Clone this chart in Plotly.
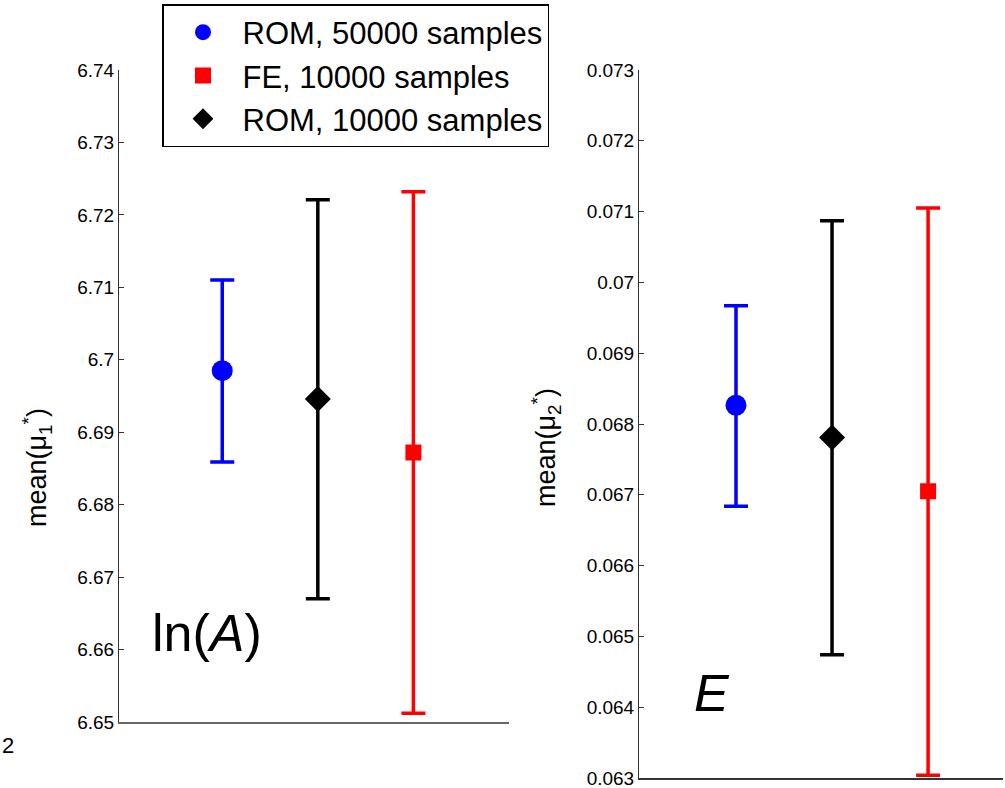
import plotly.graph_objects as go

# ---- data ----
series = ["ROM, 50000 samples", "FE, 10000 samples", "ROM, 10000 samples"]
x_slot = [1, 3, 2]
colors = ["#0000ff", "#ff0000", "#000000"]
symbols = ["circle", "square", "diamond"]
msizes = [21, 16, 20]

mu1_mean = [6.6985, 6.6872, 6.6946]
mu1_low = [6.6859, 6.6512, 6.6670]
mu1_high = [6.7110, 6.7232, 6.7221]

mu2_mean = [0.068265, 0.067050, 0.067810]
mu2_low = [0.066840, 0.063040, 0.064740]
mu2_high = [0.069670, 0.071050, 0.070870]

mu1_ticks = [6.65, 6.66, 6.67, 6.68, 6.69, 6.70, 6.71, 6.72, 6.73, 6.74]
mu1_ticklabels = ["6.65", "6.66", "6.67", "6.68", "6.69", "6.7", "6.71", "6.72", "6.73", "6.74"]
mu2_ticks = [0.063, 0.064, 0.065, 0.066, 0.067, 0.068, 0.069, 0.070, 0.071, 0.072, 0.073]
mu2_ticklabels = ["0.063", "0.064", "0.065", "0.066", "0.067", "0.068", "0.069", "0.07", "0.071", "0.072", "0.073"]

W, H = 1005, 788
FONT = "Liberation Sans, Arial, sans-serif"

fig = go.Figure()

for i in range(3):
    fig.add_trace(go.Scatter(
        x=[x_slot[i]], y=[mu1_mean[i]], mode="markers", name=series[i],
        marker=dict(color=colors[i], symbol=symbols[i], size=msizes[i]),
        error_y=dict(type="data", symmetric=False,
                     array=[mu1_high[i] - mu1_mean[i]],
                     arrayminus=[mu1_mean[i] - mu1_low[i]],
                     color=colors[i], thickness=3.5, width=12),
        xaxis="x", yaxis="y", showlegend=True, cliponaxis=False))

for i in range(3):
    fig.add_trace(go.Scatter(
        x=[x_slot[i]], y=[mu2_mean[i]], mode="markers", name=series[i],
        marker=dict(color=colors[i], symbol=symbols[i], size=msizes[i]),
        error_y=dict(type="data", symmetric=False,
                     array=[mu2_high[i] - mu2_mean[i]],
                     arrayminus=[mu2_mean[i] - mu2_low[i]],
                     color=colors[i], thickness=3.5, width=12),
        xaxis="x2", yaxis="y2", showlegend=False, cliponaxis=False))

axis_common = dict(showgrid=False, zeroline=False, ticks="inside", ticklen=5,
                   tickcolor="#333", showline=True, linecolor="#333", linewidth=1,
                   automargin=False, ticklabeloverflow="allow",
                   tickfont=dict(family=FONT, size=19, color="black"))

fig.update_layout(
    width=W, height=H,
    margin=dict(l=0, r=0, t=0, b=0, pad=0),
    paper_bgcolor="white", plot_bgcolor="white",
    font=dict(family=FONT, color="black"),
    xaxis=dict(domain=[119 / W, 509 / W], range=[-0.08, 4.0], showgrid=False,
               zeroline=False, showticklabels=False, ticks="", showline=True,
               linecolor="#666", linewidth=1.5, anchor="y", automargin=False),
    yaxis=dict(domain=[1 - 722 / H, 1 - 70 / H], range=[6.65, 6.74],
               tickvals=mu1_ticks, ticktext=mu1_ticklabels, anchor="x",
               **axis_common),
    xaxis2=dict(domain=[639 / W, 1003 / W], range=[-0.01, 3.78], showgrid=False,
                zeroline=False, showticklabels=False, ticks="", showline=True,
                linecolor="#333", linewidth=1.5, anchor="y2", automargin=False),
    yaxis2=dict(domain=[1 - 778 / H, 1 - 70 / H], range=[0.063, 0.073],
                tickvals=mu2_ticks, ticktext=mu2_ticklabels, anchor="x2",
                **axis_common),
    legend=dict(x=162 / W, y=1 - 4 / H, xanchor="left", yanchor="top",
                bordercolor="black", borderwidth=1.5, bgcolor="white",
                font=dict(family=FONT, size=31, color="black"),
                itemwidth=69, traceorder="normal"),
    annotations=[
        dict(text="mean(μ<sub>1</sub><sup>*</sup>)", xref="paper", yref="paper",
             x=37 / W, y=1 - 468 / H, xanchor="center", yanchor="middle",
             textangle=-90, showarrow=False,
             font=dict(family=FONT, size=27, color="black")),
        dict(text="mean(μ<sub>2</sub><sup>*</sup>)", xref="paper", yref="paper",
             x=546 / W, y=1 - 448 / H, xanchor="center", yanchor="middle",
             textangle=-90, showarrow=False,
             font=dict(family=FONT, size=27, color="black")),
        dict(text="ln(<i>A</i>)", xref="paper", yref="paper",
             x=207 / W, y=1 - 633 / H, xanchor="center", yanchor="middle",
             showarrow=False, font=dict(family=FONT, size=52, color="black")),
        dict(text="<i>E</i>", xref="paper", yref="paper",
             x=712 / W, y=1 - 693 / H, xanchor="center", yanchor="middle",
             showarrow=False, font=dict(family=FONT, size=52, color="black")),
        dict(text="2", xref="paper", yref="paper",
             x=0, y=1 - 745 / H, xanchor="left", yanchor="middle",
             showarrow=False, font=dict(family=FONT, size=22, color="black")),
    ],
)

fig.write_html("out.html")
